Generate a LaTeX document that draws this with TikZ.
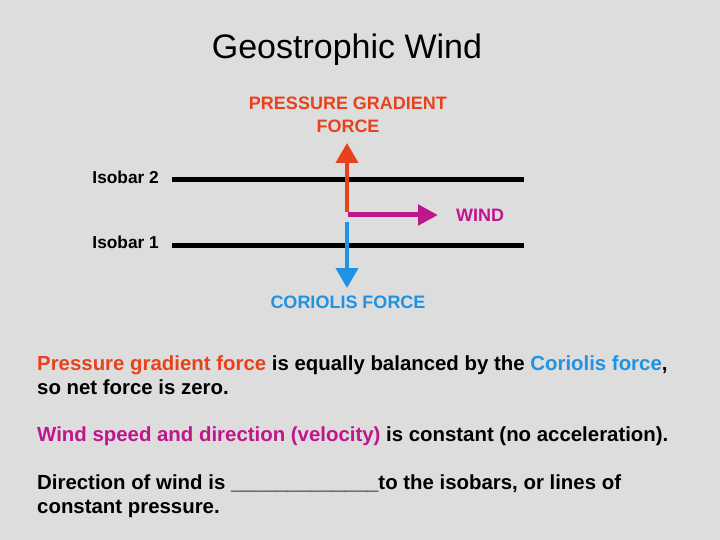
\documentclass[tikz,border=0pt]{standalone}
\usepackage{fontspec}
\setmainfont{Liberation Sans}
\usepackage{xcolor}
\usetikzlibrary{arrows.meta, positioning}

\definecolor{pgfred}{RGB}{232,66,28}
\definecolor{windpink}{RGB}{192,22,140}
\definecolor{corblue}{RGB}{32,146,228}
\definecolor{slidegray}{RGB}{221,221,221}

\begin{document}
\begin{tikzpicture}[
    x=1pt, y=-1pt,
    isobar/.style={line width=5pt},
    redarr/.style={-{Triangle[width=22pt,length=20pt]}, line width=4pt, pgfred},
    windarr/.style={-{Triangle[width=20pt,length=20pt]}, line width=5pt, windpink},
    bluearr/.style={-{Triangle[width=22pt,length=20pt]}, line width=4pt, corblue},
    lbl/.style={font=\fontsize{18}{23}\selectfont\bfseries, inner sep=0pt},
    isolbl/.style={font=\fontsize{17.3}{20}\selectfont\bfseries, inner sep=0pt, anchor=east},
    para/.style={font=\fontsize{20.4}{24}\selectfont\bfseries, inner sep=0pt, anchor=west, align=left}
  ]
  \fill[slidegray] (0,0) rectangle (720,540);

  % title
  \node[inner sep=0pt, font=\fontsize{34}{40}\selectfont] (title) at (347,50) {Geostrophic Wind};

  % isobars
  \coordinate (isotwoW) at (172,180);
  \coordinate (isotwoE) at (524,180);
  \coordinate (isooneW) at (172,245);
  \coordinate (isooneE) at (524,245);
  \draw[isobar] (isotwoW) -- (isotwoE);
  \draw[isobar] (isooneW) -- (isooneE);
  \node[isolbl] (isotwo) at (159,177) {Isobar 2};
  \node[isolbl] (isoone) at (159,242) {Isobar 1};

  % forces
  \node[lbl, pgfred, align=center] (pgf) at (348,115) {PRESSURE GRADIENT\\FORCE};
  \coordinate (pgfbase) at (347,212);
  \coordinate (pgftip) at (347,143);
  \draw[redarr] (pgfbase) -- (pgftip);

  \coordinate (windbase) at (348,215);
  \coordinate (windtip) at (438,215);
  \draw[windarr] (windbase) -- (windtip);
  \node[lbl, windpink, anchor=west] (wind) at (456,215) {WIND};

  \coordinate (corbase) at (347,222);
  \coordinate (cortip) at (347,288);
  \draw[bluearr] (corbase) -- (cortip);
  \node[lbl, corblue] (cor) at (348,302) {CORIOLIS FORCE};

  % text
  \node[para] (balance) at (37,375) {\textcolor{pgfred}{Pressure gradient force} is equally balanced by the \textcolor{corblue}{Coriolis force},\\so net force is zero.};
  \node[para] (velocity) at (37,436) {\textcolor{windpink}{Wind speed and direction (velocity)} is constant (no acceleration).};
  \node[para] (direction) at (37,496) {Direction of wind is \_\_\_\_\_\_\_\_\_\_\_\_\_to the isobars, or lines of\\constant pressure.};
\end{tikzpicture}
\end{document}
